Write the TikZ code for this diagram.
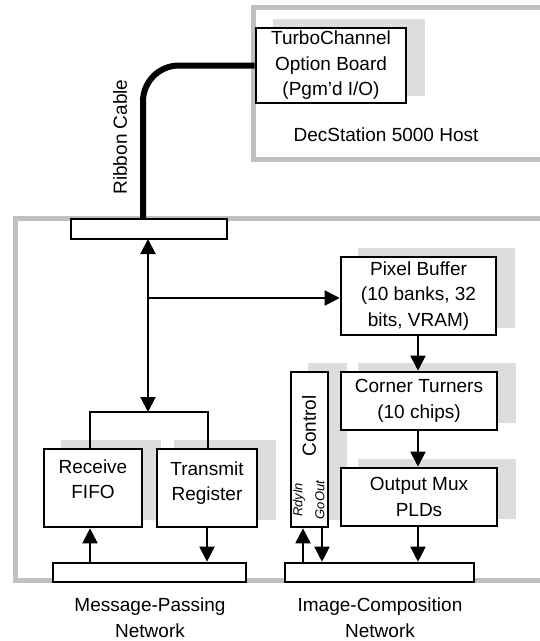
\documentclass[tikz,border=0pt]{standalone}
\usepackage{fontspec}
\setmainfont{Liberation Sans}
\usetikzlibrary{arrows.meta,backgrounds}
\definecolor{framegray}{RGB}{192,192,192}
\definecolor{shadegray}{RGB}{221,221,221}
\tikzset{
  box/.style={draw=black, line width=2.6pt, fill=white, inner sep=0pt, align=center},
  lbl/.style={inner sep=0pt, align=center},
  frame/.style={draw=framegray, line width=5pt},
  shade/.style={fill=shadegray},
  conn/.style={line width=2pt, -{Triangle[width=15pt,length=15pt]}},
  dconn/.style={line width=2pt, {Triangle[width=15pt,length=15pt]}-{Triangle[width=15pt,length=15pt]}},
  wire/.style={line width=2pt},
  cable/.style={line width=6pt, rounded corners=36pt},
}
\begin{document}
\begin{tikzpicture}[x=1pt,y=-1pt,font=\fontsize{19pt}{25.5pt}\selectfont]
\useasboundingbox (0,0) rectangle (540,641);

% boxes
\node[box, minimum width=150pt, minimum height=75pt] (board) at (331,65.5) {TurboChannel\\Option Board\\(Pgm\symbol{39}d I/O)};
\node[lbl] (host) at (386,135) {DecStation 5000 Host};
\node[box, minimum width=156pt, minimum height=20pt] (topconn) at (149,229) {};
\node[box, minimum width=155pt, minimum height=78pt] (pixbuf) at (418.5,296) {Pixel Buffer\\(10 banks, 32\\bits, VRAM)};
\node[box, minimum width=156pt, minimum height=58pt] (corner) at (419,401) {Corner Turners\\(10 chips)};
\node[box, minimum width=156pt, minimum height=58pt] (outmux) at (419,497) {Output Mux\\PLDs};
\node[box, minimum width=37pt, minimum height=155pt] (control) at (309.5,449.5) {};
\node[box, minimum width=98pt, minimum height=78pt] (receive) at (93,488) {};
\node[box, minimum width=100pt, minimum height=78pt] (transmit) at (207,488) {};
\node[box, minimum width=193pt, minimum height=19pt] (leftconn) at (149.5,572.5) {};
\node[box, minimum width=189pt, minimum height=19pt] (rightconn) at (379.5,572.5) {};

% texts
\node[lbl] (receivetxt) at (93,479) {Receive\\FIFO};
\node[lbl] (transmittxt) at (207,483) {Transmit\\Register};
\node[lbl, rotate=90] (controltxt) at (309,426) {Control};
\node[lbl, rotate=90, font=\fontsize{13pt}{15pt}\selectfont\itshape] (rdyin) at (299,500) {RdyIn};
\node[lbl, rotate=90, font=\fontsize{13pt}{15pt}\selectfont\itshape] (goout) at (320,500) {GoOut};
\node[lbl, rotate=90] (ribbon) at (120,137) {Ribbon Cable};
\node[lbl] (mpn) at (150,617.5) {Message-Passing\\Network};
\node[lbl] (icn) at (380,617.5) {Image-Composition\\Network};

% background: frames and shadows
\begin{scope}[on background layer]
  \draw[frame] (545,7.5) -- (253.5,7.5) -- (253.5,159.5) -- (545,159.5);
  \draw[frame] (545,218.5) -- (15,218.5) -- (15,580.5) -- (545,580.5);
  \foreach \n in {board,pixbuf,corner,outmux,control,receive,transmit}
    \fill[shade] ([shift={(18,-8)}]\n.south west) rectangle ([shift={(18,-8)}]\n.north east);
\end{scope}

% cable
\draw[cable] (board.west) -| (143,219);

% connectors
\coordinate (jl) at (90,412);
\coordinate (jr) at (208,412);
\coordinate (jm) at (148,412);
\coordinate (jb) at (148,298);
\draw[dconn] (148,239) -- (jm);
\draw[wire] (receive.north -| jl) -- (jl) -- (jr) -- (transmit.north -| jr);
\draw[conn] (jb) -- (pixbuf.west |- jb);
\draw[conn] (418,335) -- (corner.north -| 418,0);
\draw[conn] (418,430) -- (outmux.north -| 418,0);
\draw[conn] (418,526) -- (rightconn.north -| 418,0);
\draw[conn] (303,563) -- (control.south -| 303,0);
\draw[conn] (322,527) -- (rightconn.north -| 322,0);
\draw[conn] (90,563) -- (receive.south -| 90,0);
\draw[conn] (207,527) -- (leftconn.north -| 207,0);
\end{tikzpicture}
\end{document}
